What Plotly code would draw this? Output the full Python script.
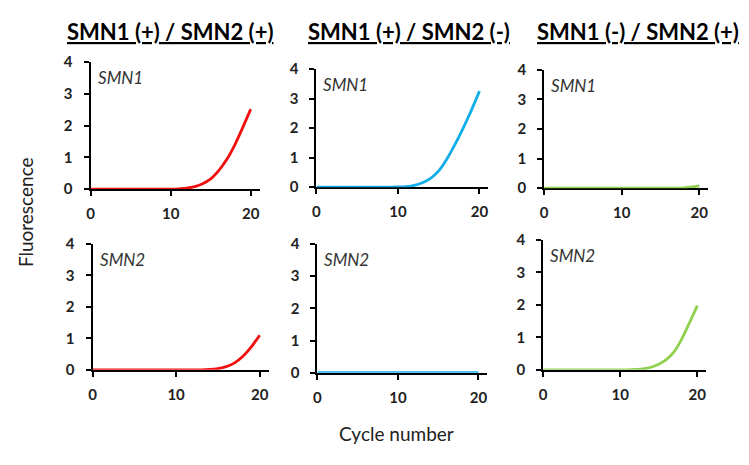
import plotly.graph_objects as go

cycles = list(range(0, 21))

smn1_pos_pos = [0]*11 + [0.01, 0.03, 0.08, 0.17, 0.32, 0.58, 0.93, 1.39, 1.94, 2.52]
smn1_pos_neg = [0]*10 + [0.01, 0.02, 0.06, 0.15, 0.30, 0.55, 0.95, 1.45, 2.00, 2.60, 3.25]
smn1_neg_pos = [0]*18 + [0.01, 0.04, 0.08]
smn2_pos_pos = [0]*14 + [0.01, 0.04, 0.10, 0.22, 0.43, 0.73, 1.10]
smn2_pos_neg = [0]*21
smn2_neg_pos = [0]*12 + [0.01, 0.03, 0.08, 0.17, 0.32, 0.56, 0.96, 1.46, 1.98]

col_titles = ["SMN1 (+) / SMN2 (+)", "SMN1 (+) / SMN2 (-)", "SMN1 (-) / SMN2 (+)"]
row_labels = ["SMN1", "SMN2"]
x_ticks = [0, 10, 20]
y_ticks = [0, 1, 2, 3, 4]

RED, BLUE, GREEN = "#f01010", "#12aee8", "#8fd14f"
series = [smn1_pos_pos, smn1_pos_neg, smn1_neg_pos, smn2_pos_pos, smn2_pos_neg, smn2_neg_pos]
colors = [RED, BLUE, GREEN, RED, BLUE, GREEN]

W, H = 749, 465
OFF = 8  # page body margin offset
FONT = "Lato"


def px(x):
    return (x - OFF) / W


def py(y):
    return 1 - (y - OFF) / H


boxes = [
    (87, 248, 186, 54), (314, 478, 184, 61), (543, 699, 185, 62),
    (89, 257, 374, 243), (315, 477, 377, 243), (542, 697, 374, 239),
]
XMAX = 21.1

fig = go.Figure()
layout = {}
for i, (vals, c, box) in enumerate(zip(series, colors, boxes)):
    n = "" if i == 0 else str(i + 1)
    xl, x20, yb, yt = box
    xr = xl + (x20 - xl) / 20 * XMAX
    fig.add_trace(go.Scatter(x=cycles, y=vals, mode="lines", line=dict(color=c, width=2.8, shape="spline"),
                             xaxis="x" + n, yaxis="y" + n, cliponaxis=False, showlegend=False))
    common = dict(showgrid=False, zeroline=False, showline=True, linecolor="black", linewidth=2,
                  ticks="outside", ticklen=5, tickwidth=2, tickcolor="black",
                  tickfont=dict(family=FONT, size=15, color="#222", weight="bold"),
                  layer="below traces", fixedrange=True)
    layout["xaxis" + n] = dict(domain=[px(xl), px(xr)], range=[0, XMAX], tickvals=x_ticks,
                               anchor="y" + n, ticklabelstandoff=5, **common)
    layout["yaxis" + n] = dict(domain=[py(yb), py(yt)], range=[0, 4], tickvals=y_ticks,
                               anchor="x" + n, ticklabelstandoff=8, **common)

annotations = []
for j, (t, cx) in enumerate(zip(col_titles, [167, 407, 637])):
    annotations.append(dict(text="<b><u>" + t + "</u></b>", x=px(cx), y=py(22), xref="paper", yref="paper",
                            showarrow=False, font=dict(family=FONT, size=22, color="black"),
                            xanchor="center", yanchor="middle"))
for i, box in enumerate(boxes):
    xl, x20, yb, yt = box
    annotations.append(dict(text="<i>" + row_labels[i // 3] + "</i>", x=px(xl + 5), y=py(yt + 16),
                            xref="paper", yref="paper", showarrow=False, xanchor="left", yanchor="middle",
                            font=dict(family=FONT, size=17, color="#333")))
annotations.append(dict(text="Fluorescence", x=px(21), y=py(210), xref="paper", yref="paper",
                        xanchor="center", yanchor="middle",
                        showarrow=False, textangle=-90, font=dict(family=FONT, size=19, color="#222")))
annotations.append(dict(text="Cycle number", x=px(395), y=py(440), xref="paper", yref="paper",
                        xanchor="center", yanchor="middle",
                        showarrow=False, font=dict(family=FONT, size=19, color="#222")))

fig.update_layout(width=W, height=H, margin=dict(l=0, r=0, t=0, b=0), plot_bgcolor="white",
                  paper_bgcolor="white", annotations=annotations, **layout)
fig.write_html("out.html")
